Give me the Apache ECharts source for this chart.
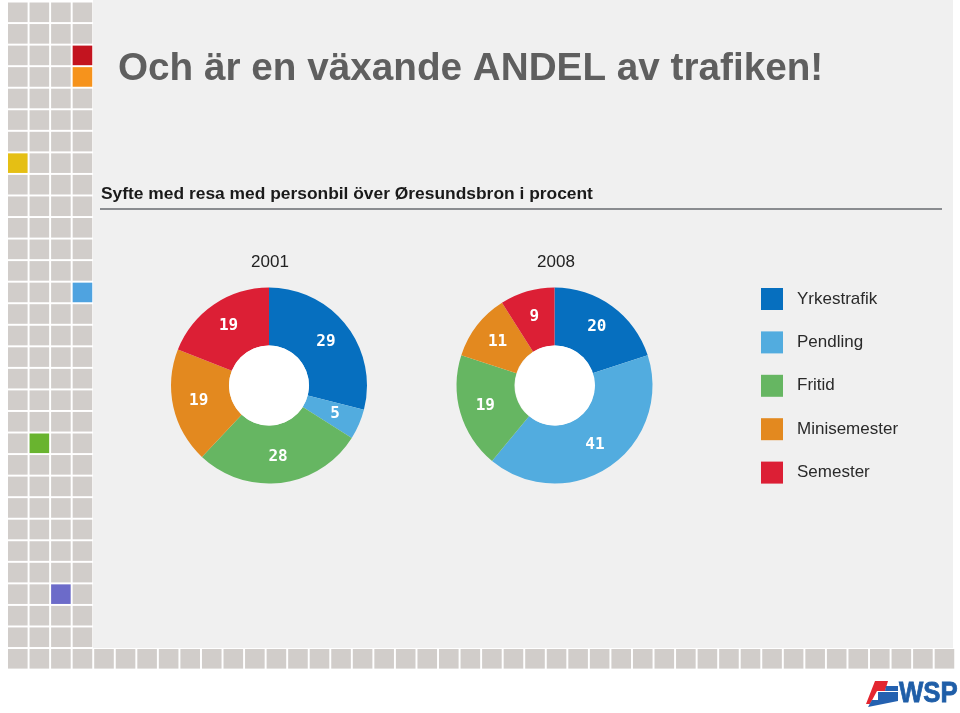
<!DOCTYPE html>
<html>
<head>
<meta charset="utf-8">
<script src="https://cdn.jsdelivr.net/npm/echarts@6/dist/echarts.min.js"></script>
<style>
html,body{margin:0;padding:0;background:#fff;}
#c{width:960px;height:713px;}
</style>
</head>
<body>
<div id="c"></div>
<script>
// ---- data ----
var categories = ['Yrkestrafik', 'Pendling', 'Fritid', 'Minisemester', 'Semester'];
var colors = ['#066fbf', '#52acdf', '#66b662', '#e3891f', '#dc1f35'];
var years = ['2001', '2008'];
var values2001 = [29, 5, 28, 19, 19];
var values2008 = [20, 41, 19, 11, 9];
var slideTitle = 'Och är en växande ANDEL av trafiken!';
var chartTitle = 'Syfte med resa med personbil över Øresundsbron i procent';

// ---- decoration: slide grid ----
var PITCH = 21.55, CELL = 19.6, X0 = 8, Y0 = 2.5, CELLCOLOR = '#d1cdca';
var accents = {
  '3,2': '#c3141f', '3,3': '#f6931c', '0,7': '#e5bf14',
  '3,13': '#4fa3e0', '1,20': '#69b42f', '2,27': '#6c6bc9'
};
var graphics = [];
graphics.push({type: 'rect', shape: {x: 93, y: 0, width: 860, height: 648}, style: {fill: '#f0f0f0'}, z: -10});
function cell(c, r) {
  var col = accents[c + ',' + r] || CELLCOLOR;
  graphics.push({type: 'rect', shape: {x: X0 + c * PITCH, y: Y0 + r * PITCH, width: CELL, height: CELL}, style: {fill: col}, z: -9});
}
for (var r = 0; r < 30; r++) for (var c = 0; c < 4; c++) cell(c, r);
for (var c2 = 0; c2 < 44; c2++) cell(c2, 30);

// rule under chart title
graphics.push({type: 'line', shape: {x1: 100, y1: 209, x2: 942, y2: 209}, style: {stroke: '#8a8c90', lineWidth: 2.2}});

// WSP logo
graphics.push({type: 'polygon', shape: {points: [[866, 704], [875, 681], [888, 681], [885, 691], [877, 691], [870, 704]]}, style: {fill: '#e32630'}});
graphics.push({type: 'polygon', shape: {points: [[878, 692], [898, 692], [898, 701], [868, 707], [872, 700], [878, 700]]}, style: {fill: '#2461b0'}});
graphics.push({type: 'polygon', shape: {points: [[886, 686], [898, 686], [898, 691], [885, 691]]}, style: {fill: '#2461b0'}});
graphics.push({type: 'text', x: 899, y: 679, scaleX: 0.86, style: {text: 'WSP', fill: '#1f5ea8', font: 'bold 30px "Liberation Sans", Arial, sans-serif', textVerticalAlign: 'top', stroke: '#1f5ea8', lineWidth: 0.8}});

var chart = echarts.init(document.getElementById('c'));

function donut(vals, cx) {
  return {
    type: 'pie',
    center: [cx, 385.5],
    radius: [40, 98],
    startAngle: 90,
    clockwise: true,
    avoidLabelOverlap: false,
    silent: true,
    label: {
      show: true, position: 'inside', formatter: '{c}',
      color: '#fff', fontWeight: 'bold', fontSize: 16,
      fontFamily: '"DejaVu Sans Mono", monospace'
    },
    labelLine: {show: false},
    itemStyle: {borderWidth: 0},
    data: categories.map(function (n, i) {
      return {name: n, value: vals[i], itemStyle: {color: colors[i]}};
    })
  };
}
function hole(cx) {
  return {
    type: 'pie', center: [cx, 385.5], radius: [0, 40], silent: true,
    label: {show: false}, labelLine: {show: false},
    data: [{name: 'hole', value: 1, itemStyle: {color: '#ffffff'}}]
  };
}

chart.setOption({
  animation: false,
  backgroundColor: '#ffffff',
  color: colors,
  title: [
    {text: slideTitle, left: 118, top: 50, padding: 0,
     textStyle: {fontFamily: '"Liberation Sans", Arial, sans-serif', fontWeight: 'bold', fontSize: 38.7, color: '#5f5f5f'}},
    {text: chartTitle, left: 101, top: 186, padding: 0,
     textStyle: {fontFamily: '"Liberation Sans", Arial, sans-serif', fontWeight: 'bold', fontSize: 17.4, color: '#1a1a1a'}},
    {text: years[0], left: 270, top: 254, padding: 0, textAlign: 'center',
     textStyle: {fontFamily: '"Liberation Sans", Arial, sans-serif', fontWeight: 'normal', fontSize: 17, color: '#222'}},
    {text: years[1], left: 556, top: 254, padding: 0, textAlign: 'center',
     textStyle: {fontFamily: '"Liberation Sans", Arial, sans-serif', fontWeight: 'normal', fontSize: 17, color: '#222'}}
  ],
  legend: {
    orient: 'vertical', left: 761, top: 288, padding: 0,
    icon: 'rect', itemWidth: 22, itemHeight: 22, itemGap: 21.4,
    selectedMode: false,
    data: categories,
    textStyle: {fontFamily: '"Liberation Sans", Arial, sans-serif', fontSize: 17, color: '#2a2a2a', padding: [0, 0, 0, 9]}
  },
  graphic: graphics,
  series: [donut(values2001, 269), hole(269), donut(values2008, 554.5), hole(555)]
});
</script>
</body>
</html>
